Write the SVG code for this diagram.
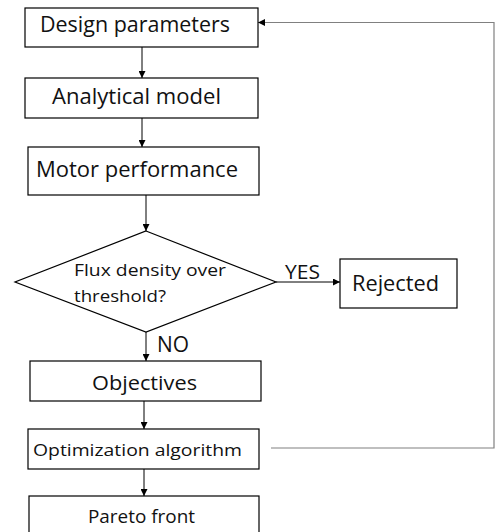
<svg xmlns="http://www.w3.org/2000/svg" width="498" height="532" viewBox="0 0 498 532">
  <defs>
    <marker id="arrow" viewBox="0 0 10 10" refX="10" refY="5" markerWidth="7" markerHeight="7" markerUnits="userSpaceOnUse" orient="auto">
      <path d="M0,0 L10,5 L0,10 z" fill="#000"/>
    </marker>
  </defs>
  <style>
    .box { fill: #fff; stroke: #000; stroke-width: 1.2; }
    .lbl { font-family: "Open Sans", "Noto Sans", "Liberation Sans", sans-serif; fill: #111; }
    .wire { fill: none; stroke: #000; stroke-width: 1; }
    .loop { fill: none; stroke: #808080; stroke-width: 1.2; }
  </style>
  <rect width="498" height="532" fill="#fff"/>

  <!-- connectors -->
  <g id="connectors">
    <line class="wire" x1="142" y1="47" x2="142" y2="78" marker-end="url(#arrow)"/>
    <line class="wire" x1="142" y1="118" x2="142" y2="147" marker-end="url(#arrow)"/>
    <line class="wire" x1="146" y1="195" x2="146" y2="231" marker-end="url(#arrow)"/>
    <line class="wire" x1="276" y1="282" x2="340" y2="282" marker-end="url(#arrow)"/>
    <line class="wire" x1="146" y1="332" x2="146" y2="361" marker-end="url(#arrow)"/>
    <line class="wire" x1="144" y1="401" x2="144" y2="429" marker-end="url(#arrow)"/>
    <line class="wire" x1="144" y1="469" x2="144" y2="496" marker-end="url(#arrow)"/>
    <polyline class="loop" points="271,448 494,448 494,22.5 258,22.5" marker-end="url(#arrow)"/>
    <text class="lbl" x="285" y="279" font-size="20" textLength="35" lengthAdjust="spacingAndGlyphs">YES</text>
    <text class="lbl" x="157" y="352" font-size="21" textLength="32" lengthAdjust="spacingAndGlyphs">NO</text>
  </g>

  <g id="design-parameters">
    <rect class="box" x="25" y="8" width="233" height="39"/>
    <text class="lbl" x="40" y="32" font-size="21" textLength="190" lengthAdjust="spacingAndGlyphs">Design parameters</text>
  </g>

  <g id="analytical-model">
    <rect class="box" x="25" y="78" width="233" height="40"/>
    <text class="lbl" x="52" y="104" font-size="22" textLength="169" lengthAdjust="spacingAndGlyphs">Analytical model</text>
  </g>

  <g id="motor-performance">
    <rect class="box" x="28" y="147" width="231" height="48"/>
    <text class="lbl" x="36" y="176.5" font-size="21" textLength="202" lengthAdjust="spacingAndGlyphs">Motor performance</text>
  </g>

  <g id="flux-check">
    <polygon class="box" points="146,231 276,282 146,332 15,282"/>
    <text class="lbl" x="74" y="275.5" font-size="16.5" textLength="152" lengthAdjust="spacingAndGlyphs">Flux density over</text>
    <text class="lbl" x="74" y="302" font-size="16.5" textLength="92" lengthAdjust="spacingAndGlyphs">threshold?</text>
  </g>

  <g id="rejected">
    <rect class="box" x="340" y="259" width="117" height="49"/>
    <text class="lbl" x="352" y="291" font-size="21" textLength="87" lengthAdjust="spacingAndGlyphs">Rejected</text>
  </g>

  <g id="objectives">
    <rect class="box" x="30" y="361" width="231" height="40"/>
    <text class="lbl" x="92" y="390" font-size="20" textLength="105" lengthAdjust="spacingAndGlyphs">Objectives</text>
  </g>

  <g id="optimization-algorithm">
    <rect class="box" x="28" y="429" width="231" height="40"/>
    <text class="lbl" x="33" y="455.5" font-size="17" textLength="209" lengthAdjust="spacingAndGlyphs">Optimization algorithm</text>
  </g>

  <g id="pareto-front">
    <rect class="box" x="29" y="496" width="230" height="50"/>
    <text class="lbl" x="88" y="523" font-size="18.5" textLength="107" lengthAdjust="spacingAndGlyphs">Pareto front</text>
  </g>
</svg>
